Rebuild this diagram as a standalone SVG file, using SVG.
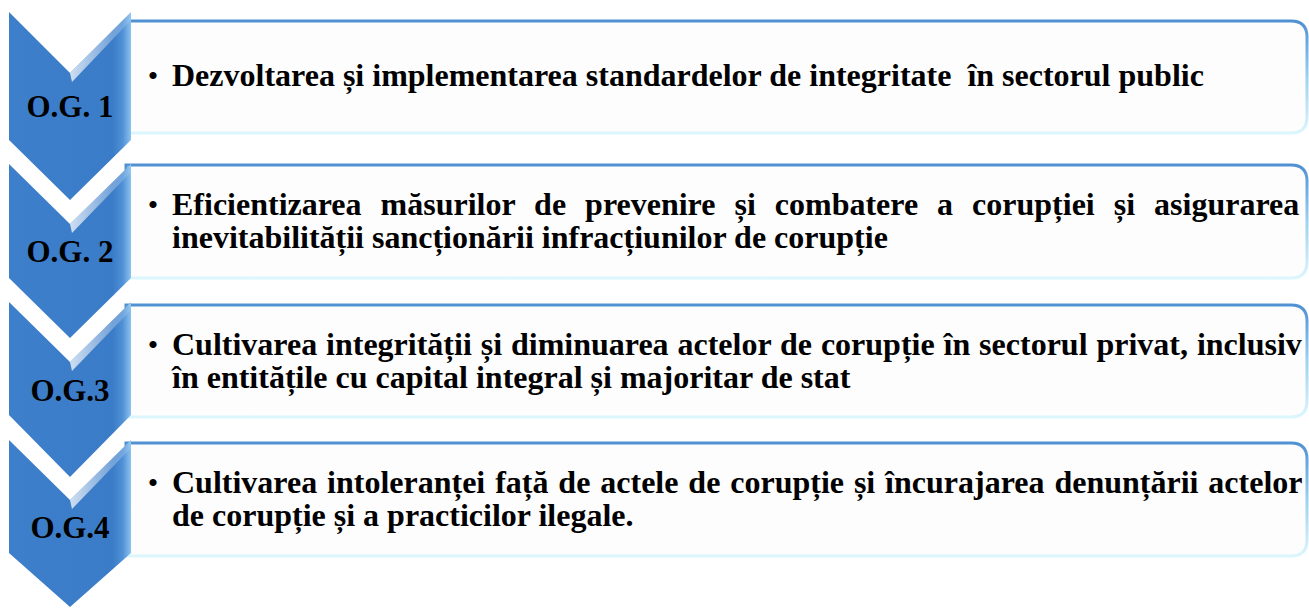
<svg xmlns="http://www.w3.org/2000/svg" width="1309" height="608" viewBox="0 0 1309 608">
<defs>
<linearGradient id="bstroke" x1="0" y1="0" x2="0" y2="1">
<stop offset="0" stop-color="#4f91d2"/>
<stop offset="0.5" stop-color="#9fd0ee"/>
<stop offset="1" stop-color="#dcf6fd"/>
</linearGradient>
<linearGradient id="chev" x1="0" y1="0" x2="1" y2="0">
<stop offset="0" stop-color="#3d7fcb"/>
<stop offset="0.85" stop-color="#3b7cc8"/>
<stop offset="0.93" stop-color="#4f90d6"/>
<stop offset="1" stop-color="#8cc2ee"/>
</linearGradient>
<linearGradient id="hl" x1="0" y1="0" x2="1" y2="0">
<stop offset="0" stop-color="#ffffff" stop-opacity="0.75"/>
<stop offset="1" stop-color="#ffffff" stop-opacity="0.1"/>
</linearGradient>
<style>
.box{fill:#fdfdfd;stroke:url(#bstroke);stroke-width:3}
.chev{fill:url(#chev)}
.hl{fill:url(#hl)}
.t{font-family:"Liberation Serif","Times New Roman",serif;font-weight:bold;font-size:32px;fill:#000}
.lbl{font-family:"Liberation Serif","Times New Roman",serif;font-weight:bold;font-size:31px;fill:#000;text-anchor:middle}
.bul{font-family:"Liberation Serif","Times New Roman",serif;font-size:30px;fill:#000;text-anchor:middle}
</style>
</defs>
<g id="connectors"></g>
<g id="node1">
<path class="box" d="M126,21 H1291 Q1307,21 1307,37 V117 Q1307,133 1291,133 H126 Z"/>
<polygon class="chev" points="9,12 70,73 131,12 131,140 70,200 9,140"/>
<polygon class="hl" points="70,73 131,12 131,20 72,82"/>
<text class="lbl" x="70" y="117">O.G. 1</text>
<text class="bul" x="153" y="86">•</text>
<text class="t" x="172" y="86" style="white-space:pre">Dezvoltarea și implementarea standardelor de integritate  în sectorul public</text>
</g>
<g id="node2">
<path class="box" d="M126,165 H1291 Q1307,165 1307,181 V262 Q1307,278 1291,278 H126 Z"/>
<polygon class="chev" points="9,164 70,224 131,164 131,278 70,338 9,278"/>
<polygon class="hl" points="70,224 131,164 131,172 72,233"/>
<text class="lbl" x="70" y="262">O.G. 2</text>
<text class="bul" x="153" y="215">•</text>
<text class="t" x="172" y="215" word-spacing="11">Eficientizarea măsurilor de prevenire și combatere a corupției și asigurarea</text>
<text class="t" x="172" y="248">inevitabilității sancționării infracțiunilor de corupție</text>
</g>
<g id="node3">
<path class="box" d="M126,305 H1291 Q1307,305 1307,321 V401 Q1307,417 1291,417 H126 Z"/>
<polygon class="chev" points="9,302 70,362 131,302 131,415 70,477 9,415"/>
<polygon class="hl" points="70,362 131,302 131,310 72,371"/>
<text class="lbl" x="70" y="401">O.G.3</text>
<text class="bul" x="153" y="355">•</text>
<text class="t" x="172" y="355" word-spacing="0.9">Cultivarea integrității și diminuarea actelor de corupție în sectorul privat, inclusiv</text>
<text class="t" x="172" y="388">în entitățile cu capital integral și majoritar de stat</text>
</g>
<g id="node4">
<path class="box" d="M126,443 H1291 Q1307,443 1307,459 V540 Q1307,556 1291,556 H126 Z"/>
<polygon class="chev" points="9,440 70,500 131,440 131,553 70,607 9,553"/>
<polygon class="hl" points="70,500 131,440 131,448 72,509"/>
<text class="lbl" x="70" y="538">O.G.4</text>
<text class="bul" x="153" y="493">•</text>
<text class="t" x="172" y="493" word-spacing="1.9">Cultivarea intoleranței față de actele de corupție și încurajarea denunțării actelor</text>
<text class="t" x="172" y="526">de corupție și a practicilor ilegale.</text>
</g>
</svg>
